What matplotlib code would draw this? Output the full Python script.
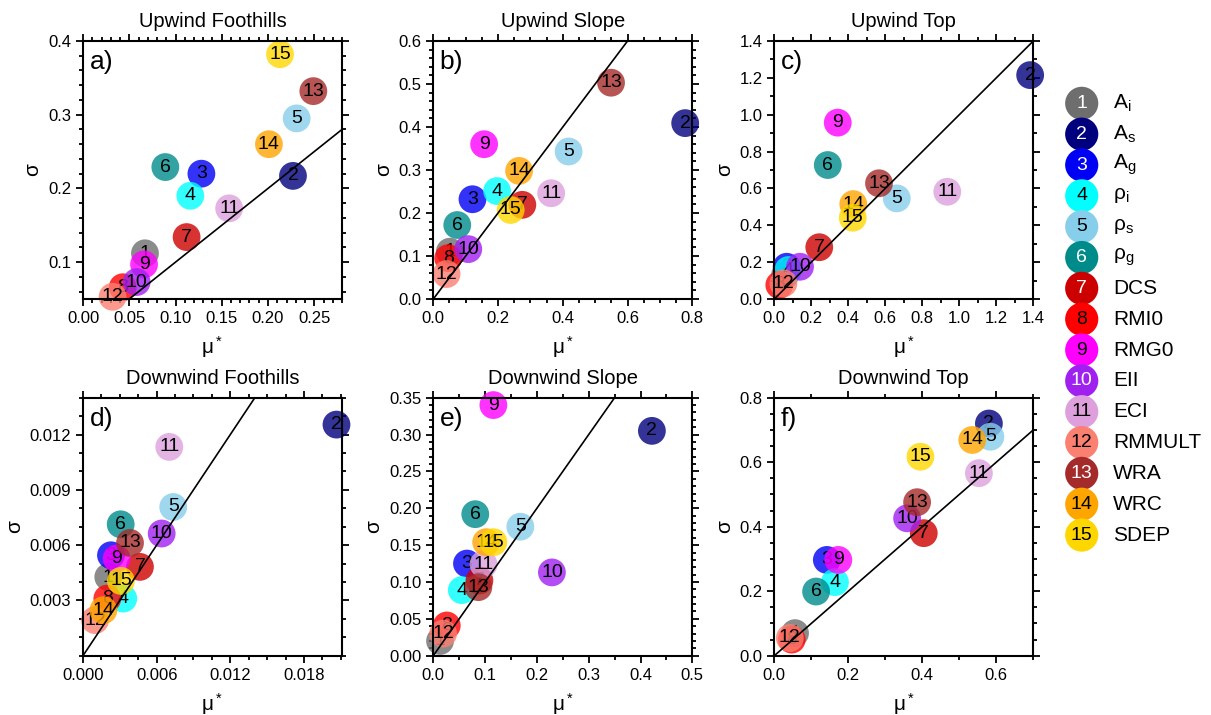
import matplotlib
matplotlib.use("Agg")
import matplotlib.pyplot as plt
from matplotlib.ticker import MultipleLocator, FormatStrFormatter

plt.rcParams["font.family"] = ["Liberation Sans", "DejaVu Sans"]
plt.rcParams["mathtext.fontset"] = "custom"
plt.rcParams["mathtext.rm"] = "Liberation Sans"
plt.rcParams["mathtext.it"] = "Liberation Sans:italic"

# parameter ids, names and colours
ids = list(range(1, 16))
names = [r"A$_\mathrm{i}$", r"A$_\mathrm{s}$", r"A$_\mathrm{g}$",
         r"ρ$_\mathrm{i}$", r"ρ$_\mathrm{s}$", r"ρ$_\mathrm{g}$",
         "DCS", "RMI0", "RMG0", "EII", "ECI", "RMMULT", "WRA", "WRC", "SDEP"]
colors = ["#6e6e6e", "#00007f", "#0000f5", "#00ffff", "#87ceeb", "#008b8b",
          "#cd0000", "#ff0000", "#ff00ff", "#a020f0", "#dda0dd", "#fa8072",
          "#a52a2a", "#ffa500", "#ffd700"]
white_ids = [1, 2, 3, 6, 7, 10, 13]

# mu* and sigma per region, ordered by parameter id 1..15
mu_a = [0.067, 0.227, 0.128, 0.116, 0.231, 0.089, 0.112, 0.043, 0.066, 0.058,
        0.158, 0.032, 0.249, 0.201, 0.213]
sig_a = [0.112, 0.217, 0.220, 0.190, 0.295, 0.229, 0.134, 0.066, 0.097, 0.073,
         0.173, 0.053, 0.332, 0.260, 0.382]

mu_b = [0.051, 0.778, 0.121, 0.197, 0.418, 0.074, 0.275, 0.046, 0.157, 0.108,
        0.364, 0.041, 0.549, 0.265, 0.239]
sig_b = [0.110, 0.409, 0.232, 0.251, 0.343, 0.172, 0.219, 0.095, 0.360, 0.116,
         0.246, 0.058, 0.503, 0.298, 0.207]

mu_c = [0.058, 1.383, 0.067, 0.076, 0.662, 0.289, 0.243, 0.027, 0.343, 0.139,
        0.935, 0.049, 0.566, 0.427, 0.424]
sig_c = [0.130, 1.215, 0.175, 0.157, 0.546, 0.727, 0.281, 0.076, 0.957, 0.175,
         0.582, 0.085, 0.628, 0.515, 0.441]

mu_d = [0.00206, 0.02065, 0.00228, 0.00328, 0.00735, 0.00307, 0.00464, 0.00198,
        0.00274, 0.00641, 0.00703, 0.00098, 0.00383, 0.00166, 0.00309]
sig_d = [0.00427, 0.01254, 0.00545, 0.00310, 0.00807, 0.00713, 0.00482, 0.00310,
         0.00527, 0.00663, 0.01133, 0.00193, 0.00612, 0.00247, 0.00406]

mu_e = [0.013, 0.422, 0.065, 0.055, 0.168, 0.081, 0.089, 0.026, 0.116, 0.229,
        0.097, 0.019, 0.087, 0.102, 0.116]
sig_e = [0.020, 0.305, 0.125, 0.089, 0.175, 0.192, 0.102, 0.041, 0.340, 0.113,
         0.124, 0.030, 0.093, 0.154, 0.154]

mu_f = [0.056, 0.580, 0.142, 0.164, 0.584, 0.113, 0.404, 0.047, 0.173, 0.359,
        0.553, 0.042, 0.386, 0.535, 0.395]
sig_f = [0.070, 0.720, 0.297, 0.228, 0.679, 0.199, 0.380, 0.050, 0.297, 0.426,
         0.566, 0.055, 0.476, 0.669, 0.617]

panels = [
    ("a)", "Upwind Foothills", mu_a, sig_a, (0, 0.28), (0.05, 0.4),
     0.05, 0.01, 0.1, 0.02, "%.2f", "%.1f"),
    ("b)", "Upwind Slope", mu_b, sig_b, (0, 0.8), (0, 0.6),
     0.2, 0.05, 0.1, 0.02, "%.1f", "%.1f"),
    ("c)", "Upwind Top", mu_c, sig_c, (0, 1.4), (0, 1.4),
     0.2, 0.1, 0.2, 0.1, "%.1f", "%.1f"),
    ("d)", "Downwind Foothills", mu_d, sig_d, (0, 0.0211), (0, 0.014),
     0.006, 0.0015, 0.003, 0.001, "%.3f", "%.3f"),
    ("e)", "Downwind Slope", mu_e, sig_e, (0, 0.5), (0, 0.35),
     0.1, 0.05, 0.05, 0.01, "%.1f", "%.2f"),
    ("f)", "Downwind Top", mu_f, sig_f, (0, 0.7), (0, 0.8),
     0.2, 0.1, 0.2, 0.05, "%.1f", "%.1f"),
]

W, H = 1211, 715
fig = plt.figure(figsize=(W / 100, H / 100), dpi=100)

col_left = [83, 433.3, 774.3]
row_top = [41, 397.7]
ax_w, ax_h = 259, 258

for k, (letter, title, mu, sig, xl, yl, xmaj, xmin, ymaj, ymin, xfmt, yfmt) in enumerate(panels):
    r, c = divmod(k, 3)
    left = col_left[c] / W
    bottom = 1 - (row_top[r] + ax_h) / H
    ax = fig.add_axes([left, bottom, ax_w / W, ax_h / H])
    ax.set_xlim(*xl)
    ax.set_ylim(*yl)

    for i, (x, y) in enumerate(zip(mu, sig)):
        ax.scatter(x, y, s=400, color=colors[i], alpha=0.8, edgecolors="none",
                   clip_on=False, zorder=2 + i * 0.01)
        ax.text(x, y, str(ids[i]), ha="center", va="center", fontsize=14,
                color="black", zorder=2.005 + i * 0.01, clip_on=False)

    ax.axline((0, 0), slope=1, color="black", lw=1.2, zorder=3)

    ax.xaxis.set_major_locator(MultipleLocator(xmaj))
    ax.xaxis.set_minor_locator(MultipleLocator(xmin))
    ax.yaxis.set_major_locator(MultipleLocator(ymaj))
    ax.yaxis.set_minor_locator(MultipleLocator(ymin))
    ax.xaxis.set_major_formatter(FormatStrFormatter(xfmt))
    ax.yaxis.set_major_formatter(FormatStrFormatter(yfmt))
    if letter == "d)":
        ax.set_yticks([0.003, 0.006, 0.009, 0.012])

    ax.tick_params(which="both", direction="out", top=True, right=True,
                   labelsize=12, width=1.3)
    ax.tick_params(which="major", length=5)
    ax.tick_params(which="minor", length=3)
    for sp in ax.spines.values():
        sp.set_linewidth(1.5)

    ax.set_title(title, fontsize=14.5, pad=10)
    ax.set_xlabel(r"μ$^*$", fontsize=15, labelpad=6)
    ax.set_ylabel("σ", fontsize=15)
    ax.text(0.025, 0.965, letter, transform=ax.transAxes, fontsize=19,
            ha="left", va="top", zorder=5)

# legend column
lg = fig.add_axes([1050 / W, 1 - 550.5 / H, 161 / W, 462.6 / H])
lg.set_xlim(0, 1)
lg.set_ylim(15.5, 0.5)
lg.axis("off")
for i, n in enumerate(ids):
    lg.scatter(0.197, n, s=570, color=colors[i], edgecolors="none", clip_on=False)
    lg.text(0.197, n, str(n), ha="center", va="center", fontsize=14,
            color="white" if n in white_ids else "black")
    lg.text(0.39, n, names[i], ha="left", va="center", fontsize=15)

fig.savefig("out.png", dpi=100)
